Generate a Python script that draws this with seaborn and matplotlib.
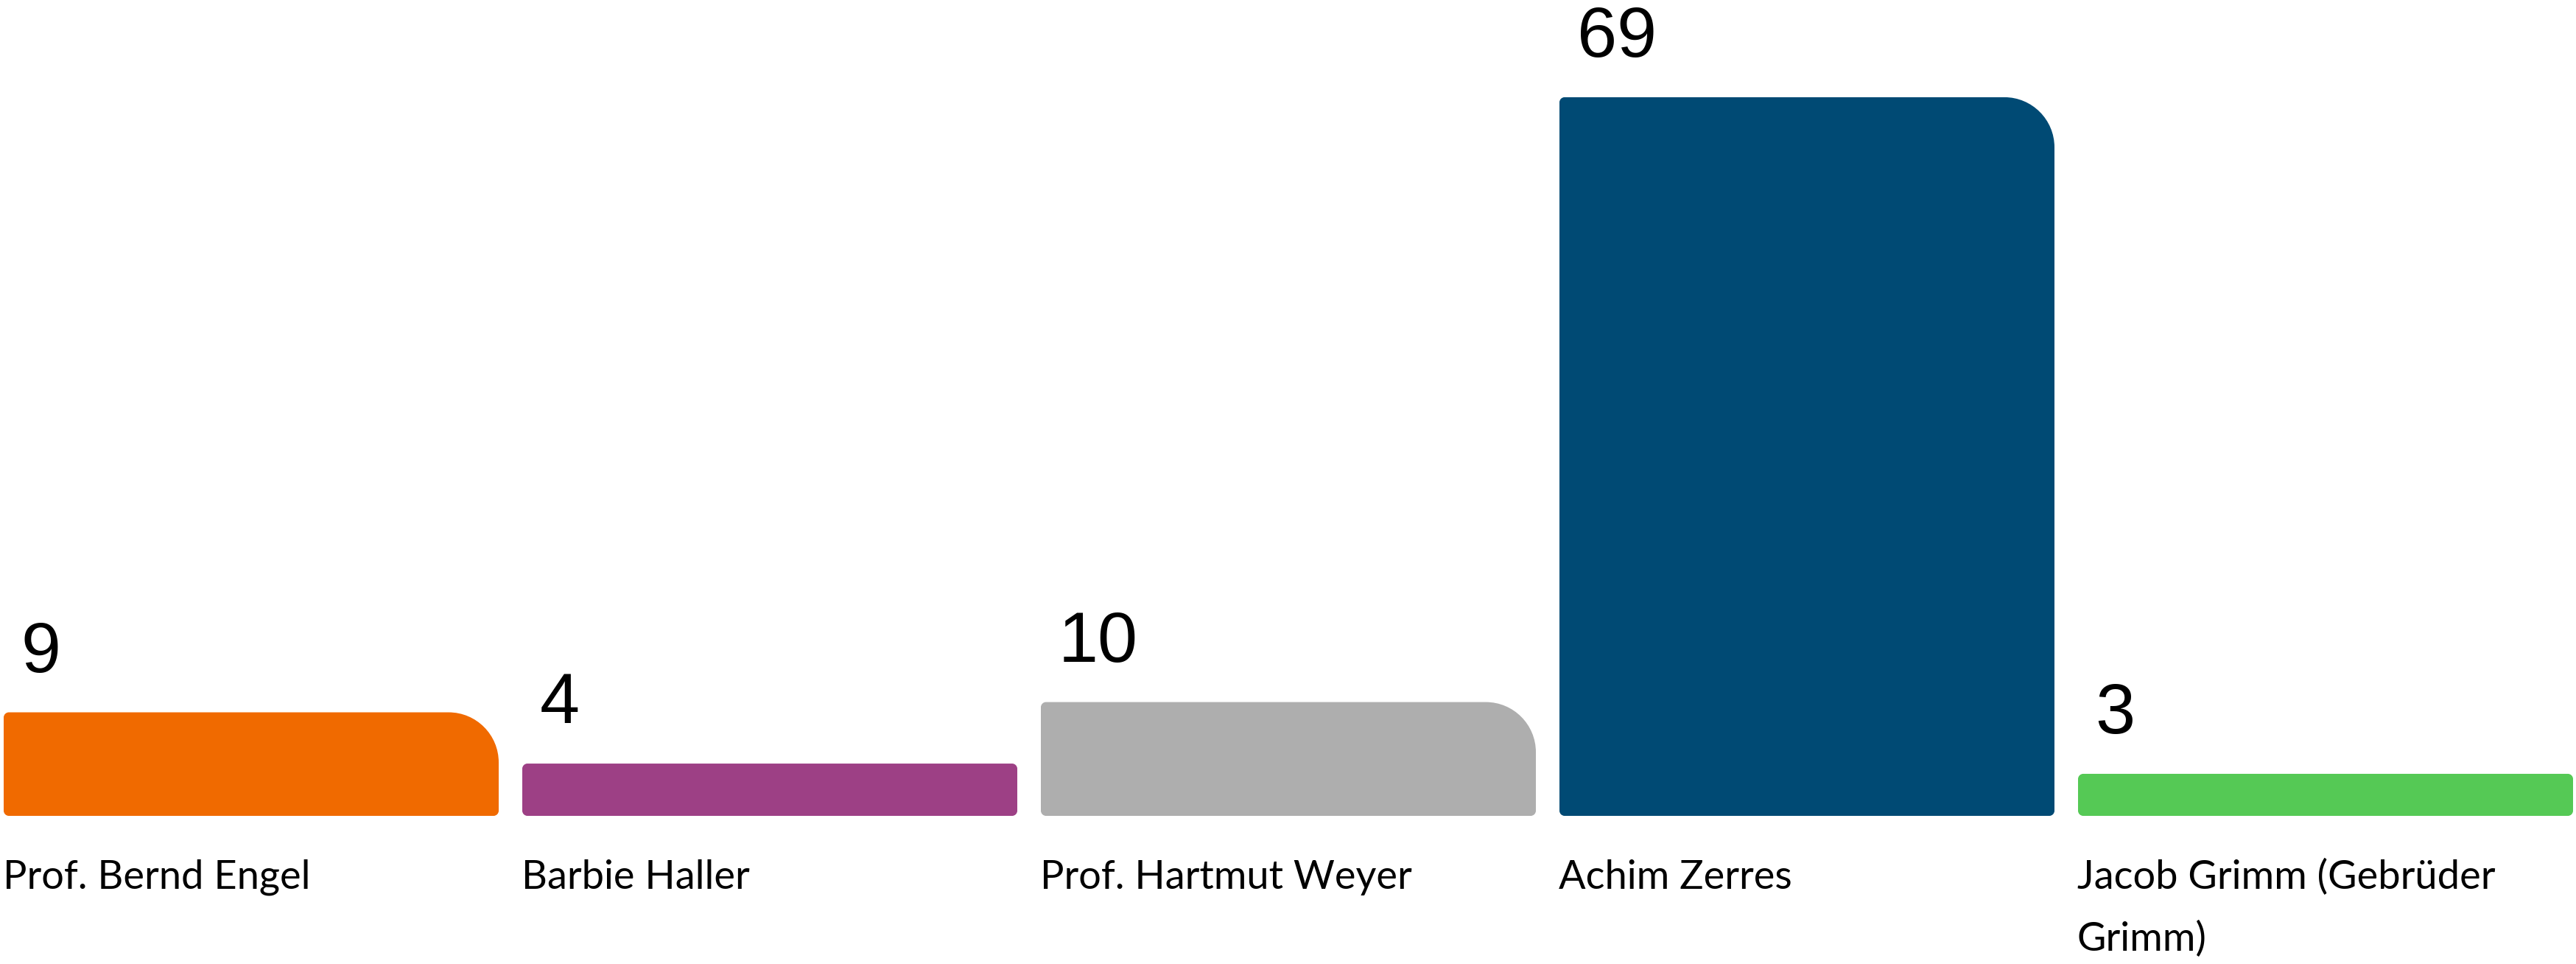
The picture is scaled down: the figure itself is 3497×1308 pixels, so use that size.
import textwrap
import numpy as np
import pandas as pd
import matplotlib
matplotlib.use("Agg")
import matplotlib.pyplot as plt
from matplotlib.path import Path
from matplotlib.patches import PathPatch
import seaborn as sns

# ---- data ----
names = ["Prof. Bernd Engel", "Barbie Haller", "Prof. Hartmut Weyer",
         "Achim Zerres", "Jacob Grimm (Gebrüder Grimm)"]
values = [9, 4, 10, 69, 3]
colors = ["#F06A00", "#9D4085", "#AEAEAE", "#004A74", "#55C955"]

df = pd.DataFrame({"name": names, "value": values})

# ---- layout constants (pixels at dpi 100) ----
W, H, DPI = 3497, 1308, 100
SLOT_PX = 704.0          # pixel width of one category slot
BAR_W = 672.0 / SLOT_PX  # relative bar width
UNIT_PX = 13.91          # pixels per value unit
ZERO_PX = 216.3          # pixel height of value 0 above figure bottom
FIRST_CENTER_PX = 341.0  # pixel x of first bar centre
BASE_EXT_PX = 15.3       # bars extend a little below zero
R_BIG, R_SMALL = 68.0, 7.0

sns.set_style("white")
fig = plt.figure(figsize=(W / DPI, H / DPI), dpi=DPI)
ax = fig.add_axes([0, 0, 1, 1])

sns.barplot(data=df, x="name", y="value", hue="name", palette=colors,
            width=BAR_W, legend=False, ax=ax, saturation=1)

ax.set_xlim(-FIRST_CENTER_PX / SLOT_PX, (W - FIRST_CENTER_PX) / SLOT_PX)
ax.set_ylim(-ZERO_PX / UNIT_PX, (H - ZERO_PX) / UNIT_PX)
ax.axis("off")

K = 0.5523


def rounded_path(x0, y0, x1, y1, radii):
    # radii in px: bottom-left, bottom-right, top-right, top-left
    def r(px):
        return px / SLOT_PX, px / UNIT_PX
    (bl_x, bl_y), (br_x, br_y), (tr_x, tr_y), (tl_x, tl_y) = [r(p) for p in radii]
    v = [
        (x0 + bl_x, y0),
        (x1 - br_x, y0),
        (x1 - br_x + K * br_x, y0), (x1, y0 + br_y - K * br_y), (x1, y0 + br_y),
        (x1, y1 - tr_y),
        (x1, y1 - tr_y + K * tr_y), (x1 - tr_x + K * tr_x, y1), (x1 - tr_x, y1),
        (x0 + tl_x, y1),
        (x0 + tl_x - K * tl_x, y1), (x0, y1 - tl_y + K * tl_y), (x0, y1 - tl_y),
        (x0, y0 + bl_y),
        (x0, y0 + bl_y - K * bl_y), (x0 + bl_x - K * bl_x, y0), (x0 + bl_x, y0),
        (x0 + bl_x, y0),
    ]
    c = [Path.MOVETO, Path.LINETO,
         Path.CURVE4, Path.CURVE4, Path.CURVE4,
         Path.LINETO,
         Path.CURVE4, Path.CURVE4, Path.CURVE4,
         Path.LINETO,
         Path.CURVE4, Path.CURVE4, Path.CURVE4,
         Path.LINETO,
         Path.CURVE4, Path.CURVE4, Path.CURVE4,
         Path.CLOSEPOLY]
    return Path(v, c)


bars = [p for p in ax.patches]
bars.sort(key=lambda p: p.get_x())
for p, name, val in zip(bars, names, values):
    x0 = p.get_x()
    x1 = x0 + p.get_width()
    y1 = p.get_height()
    y0 = -BASE_EXT_PX / UNIT_PX
    fc = p.get_facecolor()
    p.set_visible(False)
    h_px = (y1 - y0) * UNIT_PX
    tr = R_BIG if h_px > 2 * R_BIG - 10 else R_SMALL
    ax.add_patch(PathPatch(rounded_path(x0, y0, x1, y1,
                                        (R_SMALL, R_SMALL, tr, R_SMALL)),
                           facecolor=fc, edgecolor="none", zorder=3))
    # value label above bar
    ax.annotate(f"{val}", xy=(x0, y1), xytext=(17, 39.5),
                textcoords="offset points", ha="left", va="baseline",
                fontsize=70, family=["Liberation Sans", "DejaVu Sans"],
                color="#000000")
    # category label below bar (wrapped, one text per line)
    for i, line in enumerate(textwrap.wrap(name, 22)):
        ax.annotate(line, xy=(x0, 0), xytext=(-1, -82 - 60.5 * i),
                    textcoords="offset points", ha="left", va="baseline",
                    fontsize=39, family=["Lato", "DejaVu Sans"],
                    color="#000000")

fig.savefig("out.png", dpi=DPI, facecolor="white")
